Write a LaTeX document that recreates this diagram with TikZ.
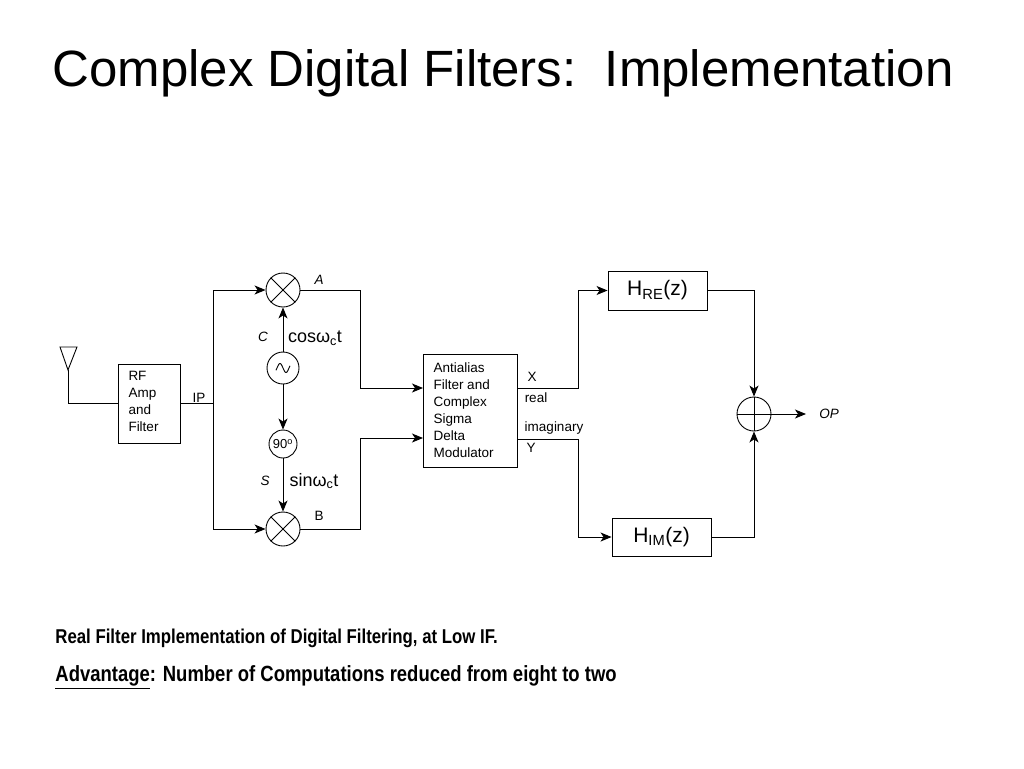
\documentclass[tikz,border=0pt]{standalone}
\usepackage{fontspec}
\setmainfont{Liberation Sans}
\usetikzlibrary{arrows.meta}
\begin{document}
\begin{tikzpicture}[x=1pt,y=-1pt,line width=1pt,
  arr/.style={-{Stealth[length=11pt,width=9pt,inset=3pt]}},
  lbl/.style={font=\fontsize{13.5}{17}\selectfont,inner sep=0pt},
  blk/.style={draw,line width=0.9pt,inner sep=0pt},
  mult/.style={draw,circle,line width=0.9pt,minimum size=34pt,inner sep=0pt},
  bottomtext/.style={font=\bfseries,anchor=west,inner sep=0pt}]
\useasboundingbox (0,0) rectangle (1024,768);
\node (title) at (503,73) {\fontsize{51}{56}\selectfont Complex Digital Filters:\ \ Implementation};
% antenna and RF block
\coordinate (ant) at (68,370);
\draw[line width=0.9pt] (60,347) -- (77,347) -- (ant) -- cycle;
\node[blk,minimum width=62pt,minimum height=79pt] (rf) at (149,403.5) {};
\node[lbl,align=left,anchor=north west] (rftext) at (128,371) {RF\\Amp\\and\\Filter};
\draw (ant) |- (rf.west);
\coordinate (j) at (213,403.5);
\draw (rf.east) -- (j);
\node[lbl] (ip) at (199,398) {IP};
% mixers and oscillator
\node[mult] (m1) at (283,290) {};
\node[mult] (m2) at (283,529) {};
\foreach \m in {m1,m2}{
  \draw[line width=0.9pt] (\m.north west) -- (\m.south east) (\m.north east) -- (\m.south west);}
\node[mult,minimum size=32pt] (osc) at (283,368) {};
\draw[line width=0.9pt] plot[domain=-7:7,samples=40,smooth] ({283+\x},{368-4.5*cos(180*(\x+3)/6)});
\node[mult,minimum size=28pt] (ph) at (283,444) {\fontsize{13}{15}\selectfont 90\textsuperscript{o}};
\draw[arr] (j) |- (m1.west);
\draw[arr] (j) |- (m2.west);
\draw[arr] (osc) -- (m1);
\draw[arr] (osc) -- (ph);
\draw[arr] (ph) -- (m2);
\node[lbl] (lc) at (263,337) {\itshape C};
\node[lbl] (ls) at (265,481) {\itshape S};
\node[inner sep=0pt,font=\fontsize{18}{20}\selectfont] (cos) at (315,338) {cosω\textsubscript{c}t};
\node[inner sep=0pt,font=\fontsize{18}{20}\selectfont] (sin) at (314,481) {sinω\textsubscript{c}t};
\node[lbl] (la) at (319,280) {\itshape A};
\node[lbl] (lb) at (319,516) {B};
% antialias block
\node[blk,minimum width=94pt,minimum height=113pt] (aa) at (470,410.5) {};
\node[lbl,align=left,anchor=north west] (aatext) at (433,362) {Antialias\\Filter and\\Complex\\Sigma\\Delta\\Modulator};
\coordinate (a1) at (360,290);
\coordinate (b1) at (360,529);
\coordinate (ain1) at (423,388);
\coordinate (ain2) at (423,438);
\draw[arr] (m1.east) -- (a1) |- (ain1);
\draw[arr] (m2.east) -- (b1) |- (ain2);
% outputs
\coordinate (xo) at (517,388);
\coordinate (xc) at (578,388);
\coordinate (yo) at (517,439);
\coordinate (yc) at (578,439);
\node[blk,minimum width=99pt,minimum height=39pt,font=\fontsize{21}{23}\selectfont] (hre) at (657.5,290.5) {H\textsubscript{RE}(z)};
\node[blk,minimum width=99pt,minimum height=38pt,font=\fontsize{21}{23}\selectfont] (him) at (661.5,537) {H\textsubscript{IM}(z)};
\draw[arr] (xo) -- (xc) |- (hre.west);
\draw[arr] (yo) -- (yc) |- (him.west);
\node[lbl] (lx) at (532,377) {X};
\node[lbl] (lreal) at (536,398) {real};
\node[lbl] (limag) at (554,428) {imaginary};
\node[lbl] (ly) at (531,448) {Y};
% adder
\node[mult] (sum) at (754,414) {};
\draw[line width=0.9pt] (sum.north) -- (sum.south) (sum.west) -- (sum.east);
\draw[arr] (hre.east) -| (sum.north);
\draw[arr] (him.east) -| (sum.south);
\coordinate (op) at (806,414);
\draw[arr] (sum.east) -- (op);
\node[lbl] (lop) at (829,414) {\itshape OP};
% bottom text
\node[bottomtext,font=\bfseries\fontsize{20}{22}\selectfont,xscale=0.84] (t1) at (55,638) {Real Filter Implementation of Digital Filtering, at Low IF.};
\node[bottomtext,font=\bfseries\fontsize{22}{24}\selectfont,xscale=0.84] (t2) at (55,677) {\underline{Advantage}: Number of Computations reduced from eight to two};
\end{tikzpicture}
\end{document}
